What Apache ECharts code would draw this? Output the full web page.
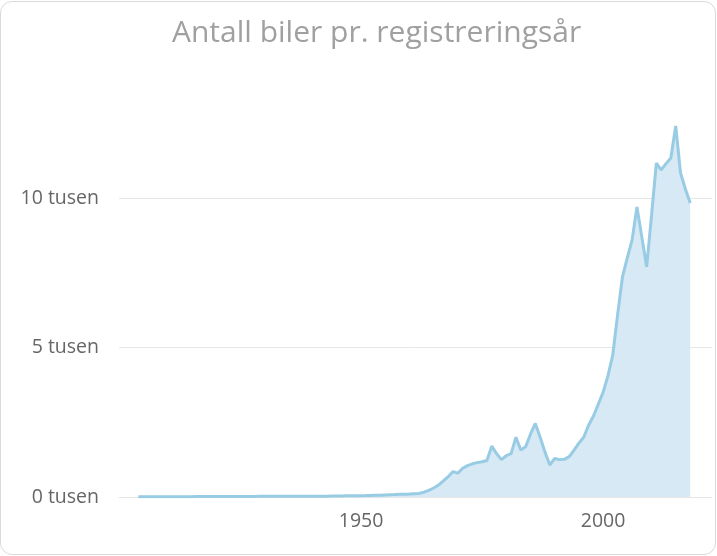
<!DOCTYPE html>
<html lang="no">
<head>
  <meta charset="UTF-8">
  <title>Antall biler pr. registreringsår</title>
  <script src="https://cdn.jsdelivr.net/npm/echarts@6/dist/echarts.min.js"></script>
  <style>
    * {
      padding: 0px;
      margin: 0px;
    }
    body {
      background: #fff;
    }
    #card {
      position: absolute;
      left: 0px;
      top: 1px;
      width: 714px;
      height: 552px;
      border: 1px solid #dadada;
      border-radius: 12px;
      background: #fff;
    }
    #main {
      position: absolute;
      left: 0px;
      top: 0px;
      width: 717px;
      height: 556px;
    }
  </style>
</head>
<body>
<div id="card"></div>
<div id="main"></div>
<script>
  // registreringsår og antall biler
  var years = [];
  for (var y = 1904; y <= 2018; y++) years.push(y);

  var counts = [
    // 1904-1913
    8, 8, 9, 9, 10, 10, 10, 11, 11, 12,
    // 1914-1923
    12, 12, 13, 13, 14, 14, 15, 15, 16, 17,
    // 1924-1933
    18, 18, 19, 20, 20, 21, 22, 22, 23, 24,
    // 1934-1943
    25, 26, 27, 28, 28, 29, 28, 27, 27, 28,
    // 1944-1953
    30, 32, 35, 38, 40, 42, 45, 48, 52, 56,
    // 1954-1963
    60, 68, 75, 80, 88, 95, 100, 110, 120, 160,
    // 1964-1973
    220, 300, 400, 540, 680, 850, 800, 960, 1050, 1110,
    // 1974-1983
    1150, 1180, 1220, 1700, 1450, 1250, 1380, 1450, 2000, 1570,
    // 1984-1993
    1680, 2100, 2460, 2000, 1500, 1070, 1290, 1250, 1260, 1350,
    // 1994-2003
    1570, 1800, 2000, 2400, 2700, 3100, 3500, 4050, 4750, 6100,
    // 2004-2013
    7360, 8000, 8600, 9700, 8700, 7700, 9400, 11170, 10940, 11150,
    // 2014-2018
    11340, 12410, 10840, 10300, 9830
  ];

  var yTicks = [0, 5000, 10000, 15000];

  var chart = echarts.init(document.getElementById('main'));
  var data = years.map(function (yr, i) { return [yr, counts[i]]; });

  chart.setOption({
    animation: false,
    backgroundColor: 'transparent',
    title: {
      text: 'Antall biler pr. registreringsår',
      left: 167,
      top: 13,
      textStyle: {
        color: '#a0a0a0',
        fontSize: 30,
        fontWeight: 'normal',
        fontFamily: 'Open Sans'
      }
    },
    grid: {
      left: 119,
      right: 5,
      top: 48.5,
      bottom: 59
    },
    xAxis: {
      type: 'value',
      min: 1900,
      max: 2022.5,
      interval: 50,
      axisLine: {show: true, lineStyle: {color: '#e6e6e6', width: 1}},
      axisTick: {show: false},
      splitLine: {show: false},
      axisLabel: {
        showMinLabel: false,
        showMaxLabel: false,
        margin: 14,
        color: '#666',
        fontSize: 19.5,
        fontFamily: 'Open Sans',
        formatter: function (v) { return String(v); }
      }
    },
    yAxis: {
      type: 'value',
      min: yTicks[0],
      max: yTicks[yTicks.length - 1],
      interval: 5000,
      axisLine: {show: false},
      axisTick: {show: false},
      splitLine: {
        show: true,
        lineStyle: {color: ['#e6e6e6', '#e6e6e6', '#e6e6e6', 'rgba(0,0,0,0)']}
      },
      axisLabel: {
        margin: 20,
        color: '#666',
        fontSize: 19.5,
        fontFamily: 'Open Sans',
        formatter: function (v) {
          if (v >= 15000) return '';
          return (v / 1000) + ' tusen';
        }
      }
    },
    series: [{
      type: 'line',
      data: data,
      symbol: 'none',
      smooth: false,
      lineStyle: {color: '#98cbe4', width: 3},
      areaStyle: {color: '#d6e9f5', opacity: 1}
    }]
  });
</script>
</body>
</html>
